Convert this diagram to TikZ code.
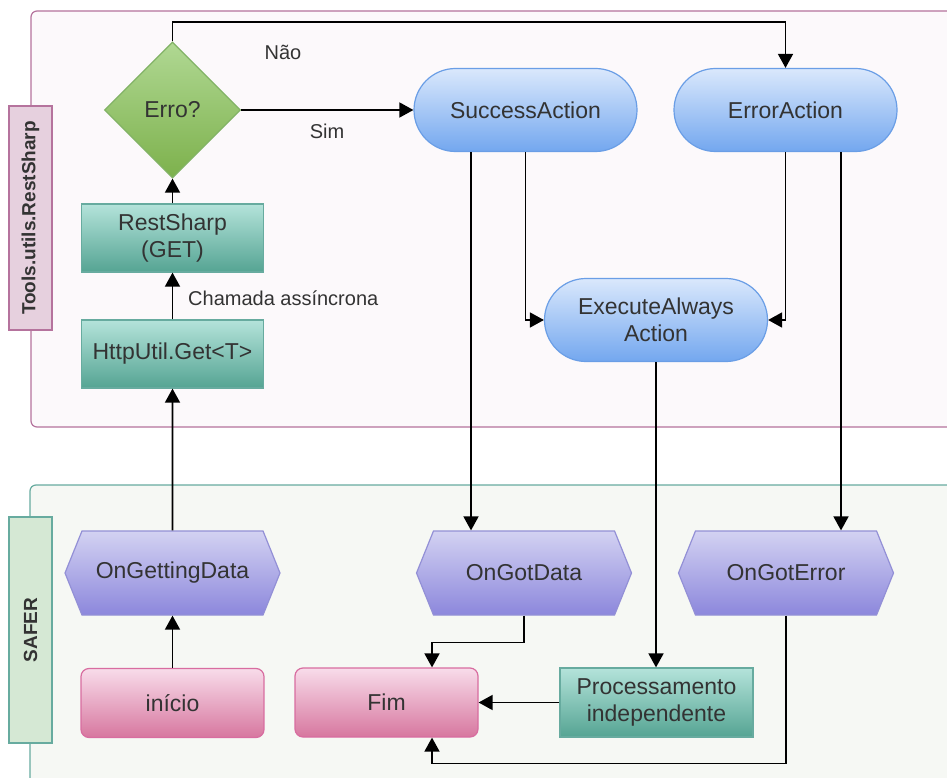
\documentclass[tikz,border=0pt]{standalone}
\usepackage{fontspec}
\setmainfont{Liberation Sans}
\usetikzlibrary{shapes.geometric,shapes.symbols,shapes.misc,arrows.meta}
\definecolor{texto}{HTML}{333333}
\definecolor{bordaTopo}{HTML}{B5739D}
\definecolor{fundoTopo}{HTML}{FCF9FB}
\definecolor{raiaTopo}{HTML}{E6D0DE}
\definecolor{bordaBase}{HTML}{67AB9F}
\definecolor{fundoBase}{HTML}{F6F8F4}
\definecolor{raiaBase}{HTML}{D5E8D4}
\definecolor{verdeA}{HTML}{B0D893}
\definecolor{verdeB}{HTML}{7DB14C}
\definecolor{verdeBorda}{HTML}{82B366}
\definecolor{aguaA}{HTML}{B4E3DA}
\definecolor{aguaB}{HTML}{55A493}
\definecolor{azulA}{HTML}{DAE8FC}
\definecolor{azulB}{HTML}{73A7EF}
\definecolor{azulBorda}{HTML}{6A9EE6}
\definecolor{roxoA}{HTML}{D3D2F2}
\definecolor{roxoB}{HTML}{8C87DC}
\definecolor{roxoBorda}{HTML}{9390D6}
\definecolor{rosaA}{HTML}{F8DCEA}
\definecolor{rosaB}{HTML}{D7779F}
\definecolor{rosaBorda}{HTML}{D86DA0}
\tikzset{
 seta/.style={-{Triangle[length=14pt,width=15pt]},line width=1.6pt},
 caixa/.style={inner sep=0pt,align=center,text=texto,font=\fontsize{23}{27.5}\selectfont,line width=1.2pt},
 processo/.style={caixa,minimum width=182pt,minimum height=68pt,draw=bordaBase,top color=aguaA,bottom color=aguaB},
 acao/.style={caixa,rounded rectangle,minimum width=223pt,minimum height=83pt,draw=azulBorda,top color=azulA,bottom color=azulB},
 evento/.style={caixa,signal,signal to=east and west,signal pointer angle=136,minimum width=215pt,minimum height=84pt,draw=roxoBorda,top color=roxoA,bottom color=roxoB},
 terminal/.style={caixa,rounded corners=8pt,minimum width=183pt,minimum height=69pt,draw=rosaBorda,top color=rosaA,bottom color=rosaB},
 decisao/.style={caixa,diamond,aspect=1,minimum width=136pt,minimum height=136pt,draw=verdeBorda,top color=verdeA,bottom color=verdeB},
 raia/.style={rotate=90,minimum height=43pt,inner sep=0pt,line width=1.2pt,text=texto,font=\bfseries\fontsize{19}{23}\selectfont},
 rotulo/.style={inner sep=0pt,text=texto,font=\fontsize{20}{24}\selectfont}
}
\begin{document}
\begin{tikzpicture}[x=1pt,y=-1pt]
 \clip (0,0) rectangle (947,778);
 \draw[draw=bordaTopo,fill=fundoTopo,rounded corners=6pt,line width=1.2pt] (31,11) rectangle (990,427);
 \draw[draw=bordaBase,fill=fundoBase,rounded corners=6pt,line width=1.2pt] (30,485) rectangle (990,830);
 \node[raia,fill=raiaTopo,draw=bordaTopo,minimum width=224pt] (tools) at (30.5,218) {Tools.utils.RestSharp};
 \node[raia,fill=raiaBase,draw=bordaBase,minimum width=226pt] (safer) at (30.5,630) {SAFER};

 \node[decisao] (erro) at (172.5,110) {Erro?};
 \node[processo] (rest) at (172.5,238) {RestSharp\\(GET)};
 \node[processo] (http) at (172.5,354) {HttpUtil.Get<T>};
 \node[acao] (sucesso) at (525.5,110) {SuccessAction};
 \node[acao] (falha) at (785.5,110) {ErrorAction};
 \node[acao] (sempre) at (656,320) {ExecuteAlways\\Action};
 \node[evento] (obtendo) at (172.5,573) {OnGettingData};
 \node[evento] (dados) at (524,573) {OnGotData};
 \node[evento] (erroev) at (786,573) {OnGotError};
 \node[terminal] (inicio) at (172.5,703) {início};
 \node[terminal] (fim) at (386.5,702.5) {Fim};
 \node[processo,minimum width=193pt,minimum height=69pt] (indep) at (656.5,702.5) {Processamento\\independente};

 \node[rotulo] (nao) at (283,52) {Não};
 \node[rotulo] (sim) at (327,131) {Sim};
 \node[rotulo,anchor=west] (chamada) at (188,298) {Chamada assíncrona};

 \coordinate (alto) at (0,22);
 \draw[seta] (inicio) -- (obtendo);
 \draw[seta] (obtendo) -- (http);
 \draw[seta] (http) -- (rest);
 \draw[seta] (rest) -- (erro);
 \draw[seta] (erro) -- (sucesso);
 \draw[seta] (erro.north) -- (erro.north |- alto) -| (falha.north);
 \draw[seta] ([xshift=-54.5pt]sucesso.south) -- ([xshift=-54.5pt]sucesso.south |- dados.north);
 \draw[seta] (sucesso.south) |- (sempre.west);
 \draw[seta] (falha.south) |- (sempre.east);
 \draw[seta] ([xshift=55.5pt]falha.south) -- ([xshift=55.5pt]falha.south |- erroev.north);
 \draw[seta] (sempre.south) -- (sempre.south |- indep.north);
 \draw[seta] (dados.south) -- ++(0,27) -| ([xshift=45.5pt]fim.north);
 \draw[seta] (indep) -- (fim);
 \draw[seta] (erroev.south) -- ++(0,148) -| ([xshift=45.5pt]fim.south);
\end{tikzpicture}
\end{document}
